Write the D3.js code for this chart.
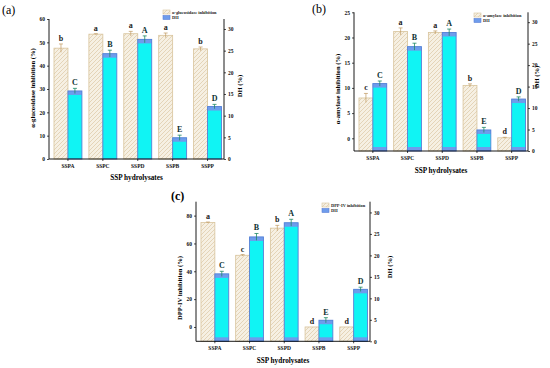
<!DOCTYPE html>
<html>
<head>
<meta charset="utf-8">
<script src="https://cdn.jsdelivr.net/npm/d3@7"></script>
<style>
  html, body { margin: 0; padding: 0; background: #fff; }
  svg { display: block; font-family: "Liberation Serif", "Times New Roman", serif; }
</style>
</head>
<body>
<svg id="chart" width="550" height="368"></svg>
<script>
// ---------- data ----------
const categories = ["SSPA", "SSPC", "SSPD", "SSPB", "SSPP"];
const dhValues = [15.7, 24.3, 27.6, 4.9, 12.1];
const dhErrors = [0.6, 0.8, 0.8, 0.6, 0.5];
const dhLetters = ["C", "B", "A", "E", "D"];

const glucosidaseValues = [47.5, 53.5, 53.7, 53.0, 47.2];
const glucosidaseErrors = [1.8, 0.2, 1.0, 1.0, 0.8];
const glucosidaseLetters = ["b", "a", "a", "a", "b"];

const amylaseValues = [8.0, 21.2, 21.0, 10.5, 0.1];
const amylaseErrors = [0.9, 0.7, 0.3, 0.3, 0.1];
const amylaseLetters = ["c", "a", "a", "b", "d"];

const dppValues = [75.0, 51.5, 71.0, 0.0, 0.0];
const dppErrors = [0.4, 0.5, 2.0, 0.0, 0.0];
const dppLetters = ["a", "c", "b", "d", "d"];

const glucosidaseTicks = [0, 10, 20, 30, 40, 50, 60];
const amylaseTicks = [0, 5, 10, 15, 20, 25];
const dppTicks = [0, 20, 40, 60, 80];
const dhTicks = [0, 5, 10, 15, 20, 25, 30];

// ---------- drawing ----------
const svg = d3.select("#chart");
const defs = svg.append("defs");
const pat = defs.append("pattern")
  .attr("id", "hatch").attr("patternUnits", "userSpaceOnUse")
  .attr("width", 4).attr("height", 4);
pat.append("rect").attr("width", 4).attr("height", 4).attr("fill", "#f6f0e3");
pat.append("path").attr("d", "M-1,1 l2,-2 M0,4 l4,-4 M3,5 l2,-2")
  .attr("stroke", "#dcc9a5").attr("stroke-width", 0.7);

const BEIGE_STROKE = "#d8c49c";
const CYAN = "#10f4f4";
const BLUE = "#6e9cec";
const BLUE_STROKE = "#5a7fd6";

function panel(cfg) {
  const g = svg.append("g");
  const { L, R, T, B } = cfg;
  const x = d3.scaleBand().domain(categories).range([L + 1.5, R + 1]);
  const yL = d3.scaleLinear().domain(cfg.leftDomain).range([B, T]);
  const yR = d3.scaleLinear().domain(cfg.rightDomain).range([B, T]);
  const bw = x.step() * 0.4;
  const center = c => x(c) + x.bandwidth() / 2;

  // inhibition bars
  categories.forEach((c, i) => {
    const v = cfg.values[i], e = cfg.errors[i];
    const cx = center(c) - bw / 2;
    g.append("rect")
      .attr("x", center(c) - bw).attr("y", yL(v))
      .attr("width", bw).attr("height", B - yL(v))
      .attr("fill", "url(#hatch)").attr("stroke", BEIGE_STROKE).attr("stroke-width", 0.8);
    if (e > 0) {
      g.append("line").attr("x1", cx).attr("x2", cx).attr("y1", yL(v - e)).attr("y2", yL(v + e))
        .attr("stroke", "#c09a60").attr("stroke-width", 0.7);
      g.append("line").attr("x1", cx - 2).attr("x2", cx + 2).attr("y1", yL(v + e)).attr("y2", yL(v + e))
        .attr("stroke", "#c09a60").attr("stroke-width", 0.7);
    }
    g.append("text").attr("x", cx).attr("y", yL(v + e) - 3)
      .attr("text-anchor", "middle").attr("font-size", 8).attr("font-weight", "bold")
      .attr("fill", "#1a1a1a").text(cfg.letters[i]);
  });

  // DH bars
  categories.forEach((c, i) => {
    const v = dhValues[i], e = dhErrors[i];
    const x0 = center(c);
    const cx = x0 + bw / 2;
    const h = B - yR(v);
    g.append("rect").attr("x", x0).attr("y", yR(v)).attr("width", bw).attr("height", h)
      .attr("fill", CYAN);
    g.append("rect").attr("x", x0).attr("y", yR(v)).attr("width", bw).attr("height", Math.min(4, h))
      .attr("fill", BLUE);
    if (cfg.bottomBand) {
      g.append("rect").attr("x", x0).attr("y", B - 4).attr("width", bw).attr("height", 4)
        .attr("fill", BLUE);
    }
    g.append("rect").attr("x", x0).attr("y", yR(v)).attr("width", bw).attr("height", h)
      .attr("fill", "none").attr("stroke", BLUE_STROKE).attr("stroke-width", 0.9);
    g.append("line").attr("x1", cx).attr("x2", cx).attr("y1", yR(v - e)).attr("y2", yR(v + e))
      .attr("stroke", "#1f8a66").attr("stroke-width", 0.8);
    g.append("line").attr("x1", cx - 2).attr("x2", cx + 2).attr("y1", yR(v + e)).attr("y2", yR(v + e))
      .attr("stroke", "#1f8a66").attr("stroke-width", 0.8);
    g.append("text").attr("x", cx).attr("y", yR(v + e) - 3)
      .attr("text-anchor", "middle").attr("font-size", 8).attr("font-weight", "bold")
      .attr("fill", "#0e3232").text(dhLetters[i]);
  });

  // axes
  const axL = g.append("g").attr("transform", `translate(${L},0)`)
    .call(d3.axisLeft(yL).tickValues(cfg.leftTicks).tickSize(2).tickPadding(2));
  const axR = g.append("g").attr("transform", `translate(${R},0)`)
    .call(d3.axisRight(yR).tickValues(dhTicks).tickSize(2).tickPadding(2));
  const axB = g.append("g").attr("transform", `translate(0,${B})`)
    .call(d3.axisBottom(x).tickSize(2).tickPadding(3));
  [axL, axR, axB].forEach(a => {
    a.select(".domain").attr("stroke", "#000").attr("stroke-width", 0.9);
    a.selectAll(".tick line").attr("stroke", "#000").attr("stroke-width", 0.7);
    a.selectAll("text").attr("font-family", "Liberation Serif, serif").attr("fill", "#111");
  });
  axL.selectAll("text").attr("font-size", 5.5).attr("font-weight", "bold");
  axR.selectAll("text").attr("font-size", 5.5).attr("font-weight", "bold");
  axB.selectAll("text").attr("font-size", 5.5).attr("font-weight", "bold");
  axL.select(".domain").attr("d", `M0,${T}V${B}`);
  axR.select(".domain").attr("d", `M0,${T}V${B}`);
  axB.select(".domain").attr("d", `M${L},0H${R}`);

  // titles
  g.append("text").attr("x", (L + R) / 2).attr("y", cfg.xTitleY)
    .attr("text-anchor", "middle").attr("font-size", 7.2).attr("font-weight", "bold")
    .text("SSP hydrolysates");
  g.append("text").attr("transform", `translate(${cfg.yTitleX},${cfg.yTitleCY}) rotate(-90)`)
    .attr("text-anchor", "middle").attr("font-size", 6.6).attr("font-weight", "bold")
    .text(cfg.yTitle);
  g.append("text").attr("transform", `translate(${cfg.rTitleX},${cfg.rTitleCY}) rotate(-90)`)
    .attr("text-anchor", "middle").attr("font-size", 6.6).attr("font-weight", "bold")
    .text("DH (%)");

  // panel label
  g.append("text").attr("x", cfg.labelX).attr("y", cfg.labelY)
    .attr("font-size", 12).attr("font-weight", cfg.labelBold ? "bold" : "normal")
    .text(cfg.label);

  // legend
  const lg = g.append("g").attr("transform", `translate(${cfg.legX},${cfg.legY})`);
  lg.append("rect").attr("x", 0).attr("y", 0).attr("width", 7).attr("height", 4)
    .attr("fill", "url(#hatch)").attr("stroke", BEIGE_STROKE).attr("stroke-width", 0.6);
  lg.append("text").attr("x", 9).attr("y", 3.8).attr("font-size", 4.4).attr("font-weight", "bold")
    .attr("fill", "#222").text(cfg.legendName);
  lg.append("rect").attr("x", 0).attr("y", 5.5).attr("width", 7).attr("height", 4)
    .attr("fill", BLUE).attr("stroke", BLUE_STROKE).attr("stroke-width", 0.6);
  lg.append("text").attr("x", 9).attr("y", 9.3).attr("font-size", 4.4).attr("font-weight", "bold")
    .attr("fill", "#222").text("DH");
}

panel({
  L: 49, R: 224, T: 19, B: 159,
  leftDomain: [0, 60], rightDomain: [0, 32.3],
  values: glucosidaseValues, errors: glucosidaseErrors, letters: glucosidaseLetters,
  leftTicks: glucosidaseTicks, bottomBand: false,
  xTitleY: 180, yTitle: "α-glucosidase inhibition (%)", yTitleX: 35, yTitleCY: 88,
  rTitleX: 242, rTitleCY: 86,
  label: "(a)", labelX: 2, labelY: 14, labelBold: false,
  legX: 163, legY: 10, legendName: "α-glucosidase inhibition"
});

panel({
  L: 354, R: 528, T: 12.3, B: 151,
  leftDomain: [-2.52, 25], rightDomain: [0, 32.3],
  values: amylaseValues, errors: amylaseErrors, letters: amylaseLetters,
  leftTicks: amylaseTicks, bottomBand: true,
  xTitleY: 173, yTitle: "α-amylase inhibition (%)", yTitleX: 340, yTitleCY: 89,
  rTitleX: 539, rTitleCY: 77,
  label: "(b)", labelX: 312, labelY: 13, labelBold: false,
  legX: 474, legY: 13, legendName: "α-amylase inhibition"
});

panel({
  L: 196, R: 370, T: 201.7, B: 341.3,
  leftDomain: [-10.3, 90], rightDomain: [0, 32.5],
  values: dppValues, errors: dppErrors, letters: dppLetters,
  leftTicks: dppTicks, bottomBand: true,
  xTitleY: 363, yTitle: "DPP-IV inhibition (%)", yTitleX: 182, yTitleCY: 288,
  rTitleX: 392, rTitleCY: 267,
  label: "(c)", labelX: 171, labelY: 200, labelBold: true,
  legX: 322, legY: 203, legendName: "DPP-IV inhibition"
});
</script>
</body>
</html>
